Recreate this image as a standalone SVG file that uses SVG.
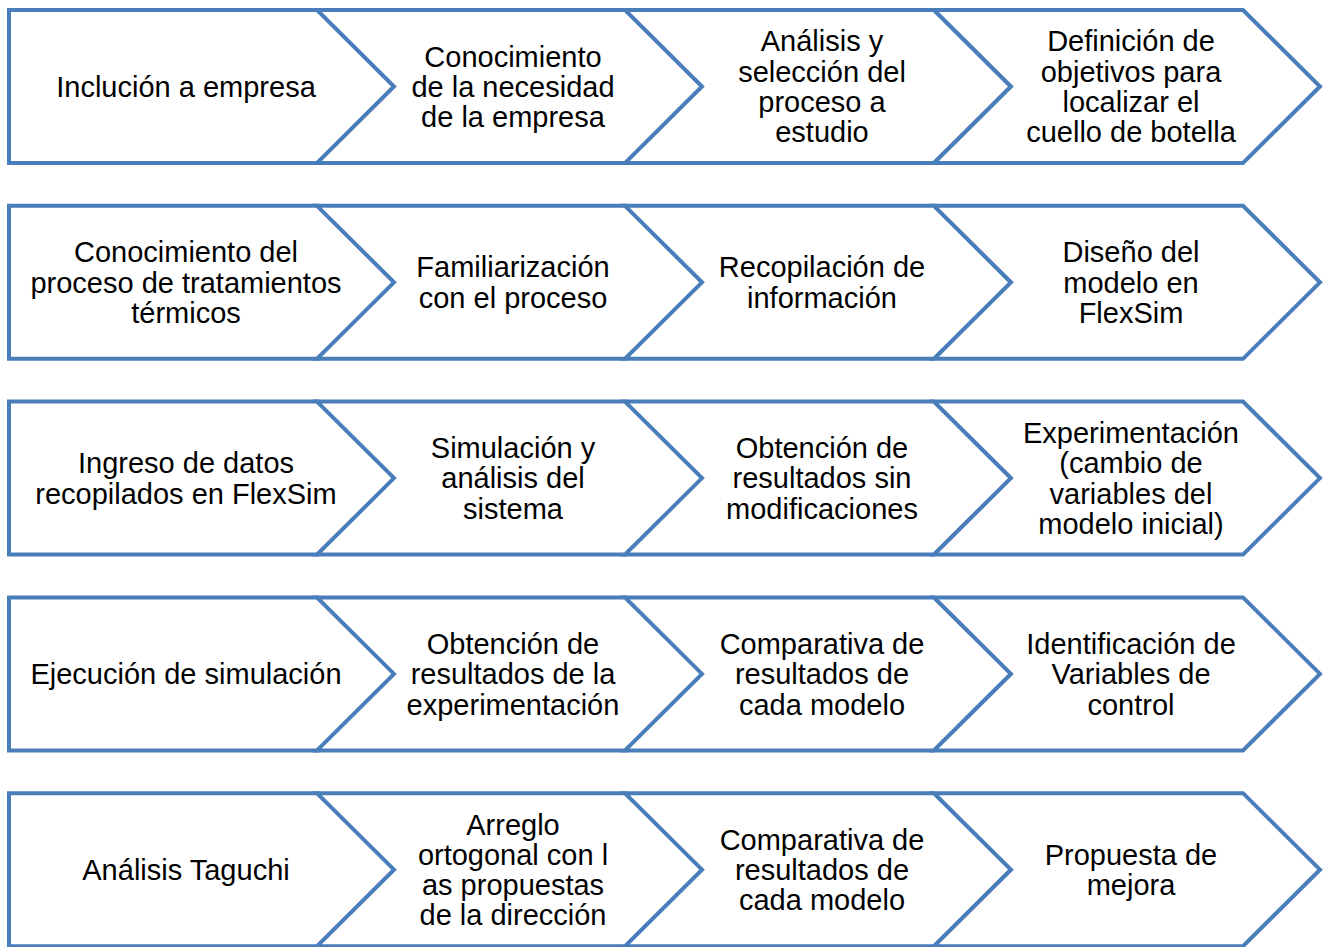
<svg xmlns="http://www.w3.org/2000/svg" width="1323" height="947" viewBox="0 0 1323 947">
<style>
.s{fill:#fff;stroke:#4A7EBB;stroke-width:4;stroke-linejoin:miter}
.t{font-family:"Liberation Sans",Arial,sans-serif;font-size:29px;fill:#000;text-anchor:middle}
</style>
<rect width="1323" height="947" fill="#fff"/>
<defs>
<path id="pent" d="M0,0 H309 L386,76.5 L309,153 H0 Z"/>
<path id="chev" d="M0,0 H309 L386,76.5 L309,153 H0 L77,76.5 Z"/>
</defs>
<g id="connectors"></g>
<!-- Row 1 -->
<g id="n1"><use href="#pent" class="s" x="9" y="10"/><text class="t" x="186" y="96.8">Inclución a empresa</text></g>
<g id="n2"><use href="#chev" class="s" x="317" y="10"/><text class="t" x="513" y="66.5"><tspan x="513">Conocimiento</tspan><tspan x="513" dy="30.3">de la necesidad</tspan><tspan x="513" dy="30.3">de la empresa</tspan></text></g>
<g id="n3"><use href="#chev" class="s" x="625" y="10"/><text class="t" x="822" y="51.35"><tspan x="822">Análisis y</tspan><tspan x="822" dy="30.3">selección del</tspan><tspan x="822" dy="30.3">proceso a</tspan><tspan x="822" dy="30.3">estudio</tspan></text></g>
<g id="n4"><use href="#chev" class="s" x="934" y="10"/><text class="t" x="1131" y="51.35"><tspan x="1131">Definición de</tspan><tspan x="1131" dy="30.3">objetivos para</tspan><tspan x="1131" dy="30.3">localizar el</tspan><tspan x="1131" dy="30.3">cuello de botella</tspan></text></g>
<!-- Row 2 -->
<g id="n5"><use href="#pent" class="s" x="9" y="205.8"/><text class="t" x="186" y="262.3"><tspan x="186">Conocimiento del</tspan><tspan x="186" dy="30.3">proceso de tratamientos</tspan><tspan x="186" dy="30.3">térmicos</tspan></text></g>
<g id="n6"><use href="#chev" class="s" x="317" y="205.8"/><text class="t" x="513" y="277.45"><tspan x="513">Familiarización</tspan><tspan x="513" dy="30.3">con el proceso</tspan></text></g>
<g id="n7"><use href="#chev" class="s" x="625" y="205.8"/><text class="t" x="822" y="277.45"><tspan x="822">Recopilación de</tspan><tspan x="822" dy="30.3">información</tspan></text></g>
<g id="n8"><use href="#chev" class="s" x="934" y="205.8"/><text class="t" x="1131" y="262.3"><tspan x="1131">Diseño del</tspan><tspan x="1131" dy="30.3">modelo en</tspan><tspan x="1131" dy="30.3">FlexSim</tspan></text></g>
<!-- Row 3 -->
<g id="n9"><use href="#pent" class="s" x="9" y="401.6"/><text class="t" x="186" y="473.25"><tspan x="186">Ingreso de datos</tspan><tspan x="186" dy="30.3">recopilados en FlexSim</tspan></text></g>
<g id="n10"><use href="#chev" class="s" x="317" y="401.6"/><text class="t" x="513" y="458.1"><tspan x="513">Simulación y</tspan><tspan x="513" dy="30.3">análisis del</tspan><tspan x="513" dy="30.3">sistema</tspan></text></g>
<g id="n11"><use href="#chev" class="s" x="625" y="401.6"/><text class="t" x="822" y="458.1"><tspan x="822">Obtención de</tspan><tspan x="822" dy="30.3">resultados sin</tspan><tspan x="822" dy="30.3">modificaciones</tspan></text></g>
<g id="n12"><use href="#chev" class="s" x="934" y="401.6"/><text class="t" x="1131" y="442.95"><tspan x="1131">Experimentación</tspan><tspan x="1131" dy="30.3">(cambio de</tspan><tspan x="1131" dy="30.3">variables del</tspan><tspan x="1131" dy="30.3">modelo inicial)</tspan></text></g>
<!-- Row 4 -->
<g id="n13"><use href="#pent" class="s" x="9" y="597.4"/><text class="t" x="186" y="684.2">Ejecución de simulación</text></g>
<g id="n14"><use href="#chev" class="s" x="317" y="597.4"/><text class="t" x="513" y="653.9"><tspan x="513">Obtención de</tspan><tspan x="513" dy="30.3">resultados de la</tspan><tspan x="513" dy="30.3">experimentación</tspan></text></g>
<g id="n15"><use href="#chev" class="s" x="625" y="597.4"/><text class="t" x="822" y="653.9"><tspan x="822">Comparativa de</tspan><tspan x="822" dy="30.3">resultados de</tspan><tspan x="822" dy="30.3">cada modelo</tspan></text></g>
<g id="n16"><use href="#chev" class="s" x="934" y="597.4"/><text class="t" x="1131" y="653.9"><tspan x="1131">Identificación de</tspan><tspan x="1131" dy="30.3">Variables de</tspan><tspan x="1131" dy="30.3">control</tspan></text></g>
<!-- Row 5 -->
<g id="n17"><use href="#pent" class="s" x="9" y="793.2"/><text class="t" x="186" y="880">Análisis Taguchi</text></g>
<g id="n18"><use href="#chev" class="s" x="317" y="793.2"/><text class="t" x="513" y="834.55"><tspan x="513">Arreglo</tspan><tspan x="513" dy="30.3">ortogonal con l</tspan><tspan x="513" dy="30.3">as propuestas</tspan><tspan x="513" dy="30.3">de la dirección</tspan></text></g>
<g id="n19"><use href="#chev" class="s" x="625" y="793.2"/><text class="t" x="822" y="849.7"><tspan x="822">Comparativa de</tspan><tspan x="822" dy="30.3">resultados de</tspan><tspan x="822" dy="30.3">cada modelo</tspan></text></g>
<g id="n20"><use href="#chev" class="s" x="934" y="793.2"/><text class="t" x="1131" y="864.85"><tspan x="1131">Propuesta de</tspan><tspan x="1131" dy="30.3">mejora</tspan></text></g>
</svg>
